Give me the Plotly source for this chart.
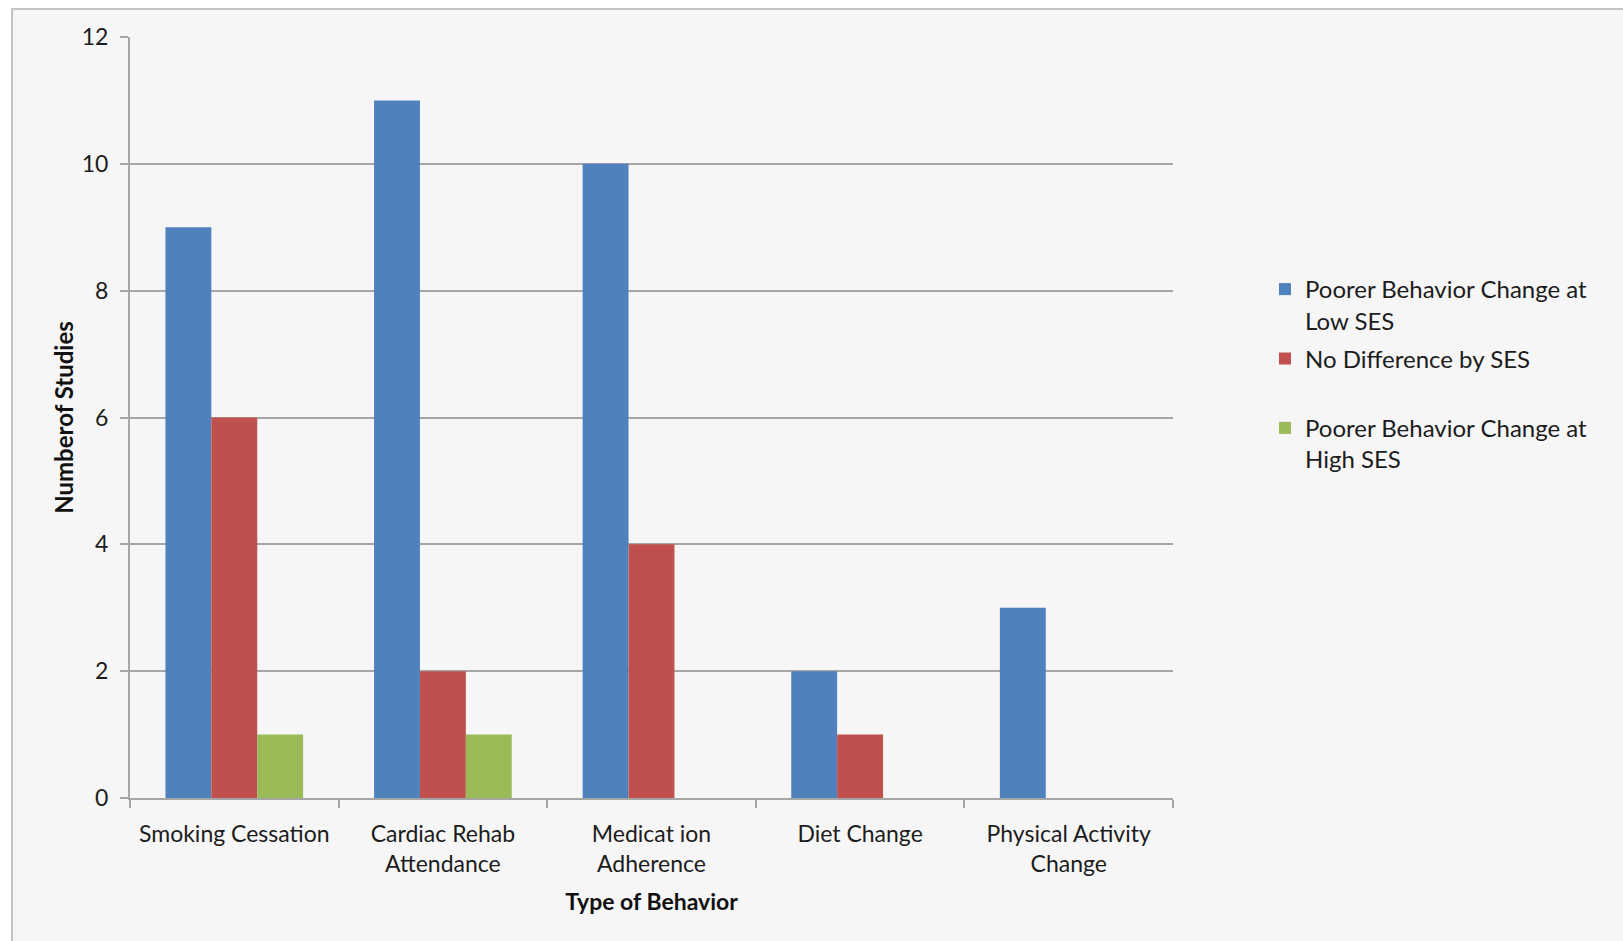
import plotly.graph_objects as go

# Number of studies by type of behavior and SES finding
categories = [
    "Smoking Cessation",
    "Cardiac Rehab<br>Attendance",
    "Medicat ion<br>Adherence",
    "Diet Change",
    "Physical Activity<br>Change",
]
low_ses = [9, 11, 10, 2, 3]
no_difference = [6, 2, 4, 1, 0]
high_ses = [1, 1, 0, 0, 0]

series_names = [
    "Poorer Behavior Change at<br>Low SES",
    "No Difference by SES<br> ",
    "Poorer Behavior Change at<br>High SES",
]
series_values = [low_ses, no_difference, high_ses]
series_colors = ["#4f81bd", "#c0504d", "#9bbb59"]

W, H = 1623, 941
ML, MR, MT, MB = 130, 450, 37, 143
PW, PH = W - ML - MR, H - MT - MB
FONT = "Lato, Calibri, sans-serif"
GRID = "#a6a6a6"
TEXT = "#1c1c1c"

fig = go.Figure()
for i, (name, vals, col) in enumerate(zip(series_names, series_values, series_colors)):
    fig.add_trace(go.Bar(
        x=categories, y=vals, name=name,
        marker=dict(color=col, line=dict(width=0)),
        legendgroup=f"g{i}",
    ))

# outer chart frame (pixel positions converted to paper units)
def px_x(p):
    return (p - ML) / PW

def px_y(p):
    return 1 - (p - MT) / PH

fig.add_shape(type="rect", xref="paper", yref="paper",
              x0=px_x(12), x1=px_x(1640), y0=px_y(9), y1=px_y(960),
              line=dict(color="#c4c4c4", width=2), fillcolor="#f6f6f6", layer="below")

fig.update_layout(
    width=W, height=H,
    margin=dict(l=ML, r=MR, t=MT, b=MB),
    paper_bgcolor="white",
    plot_bgcolor="rgba(0,0,0,0)",
    barmode="group",
    bargap=0.34,
    bargroupgap=0,
    font=dict(family=FONT, size=23, color=TEXT),
    legend=dict(
        x=px_x(1265), y=px_y(267), xanchor="left", yanchor="top",
        font=dict(family=FONT, size=24, color=TEXT),
        bgcolor="rgba(0,0,0,0)",
        valign="top",
        tracegroupgap=4,
        itemwidth=30,
    ),
    showlegend=True,
)

fig.update_xaxes(
    showline=True, linecolor=GRID, linewidth=2,
    ticks="outside", tickson="boundaries", ticklen=8, tickcolor=GRID, tickwidth=2,
    tickfont=dict(family=FONT, size=23, color=TEXT),
    ticklabelstandoff=14,
    title=dict(text="<b>Type of Behavior</b>", font=dict(family=FONT, size=23, color="#111111"), standoff=18),
    showgrid=False,
)
fig.update_yaxes(
    range=[0, 12], dtick=2,
    showline=True, linecolor=GRID, linewidth=2,
    ticks="outside", ticklen=8, tickcolor=GRID, tickwidth=2,
    showgrid=True, gridcolor=GRID, gridwidth=2,
    zeroline=False,
    tickfont=dict(family=FONT, size=23, color=TEXT),
    ticklabelstandoff=7,
    title=dict(text="<b>Numberof Studies</b>", font=dict(family=FONT, size=24, color="#111111"), standoff=1),
)

fig.write_html("out.html")
